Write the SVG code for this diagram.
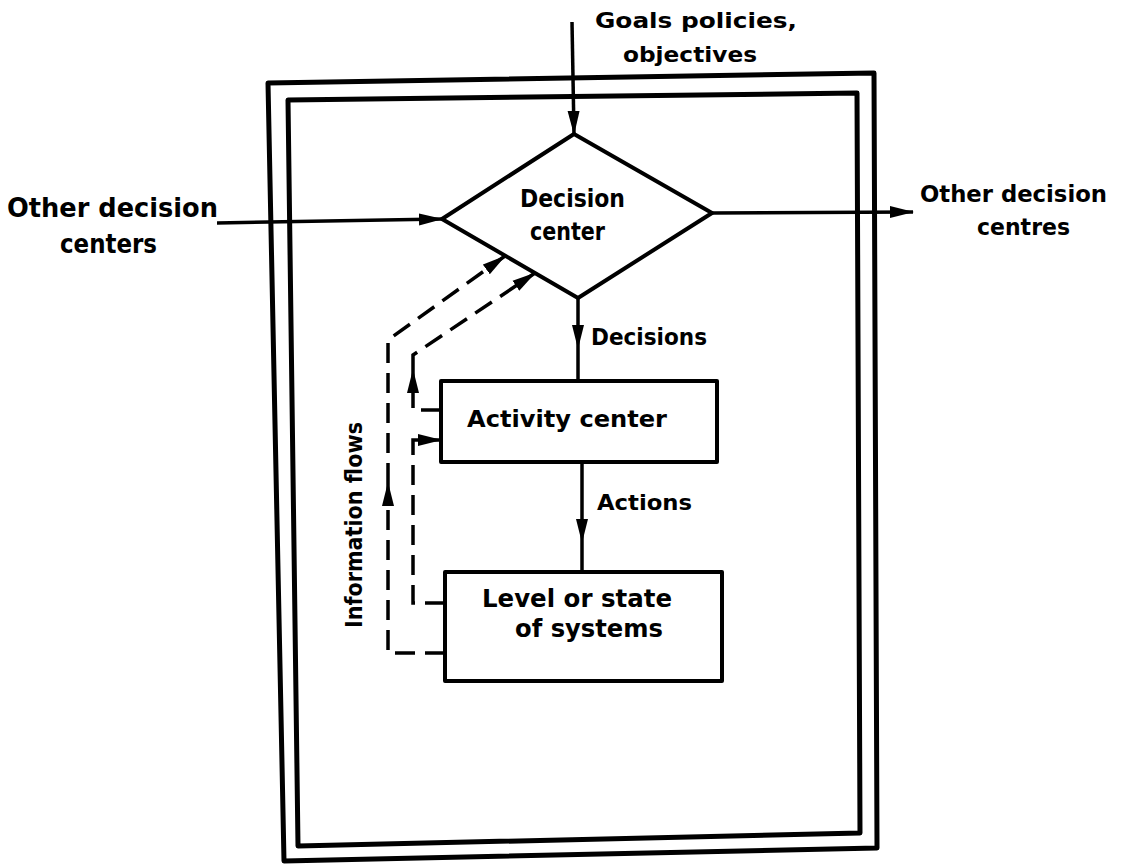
<svg xmlns="http://www.w3.org/2000/svg" width="1124" height="864" viewBox="0 0 1124 864">
<defs>
<style>
.shape{fill:none;stroke:#000;stroke-width:4;stroke-linejoin:round}
.frame{fill:none;stroke:#000;stroke-width:5;stroke-linejoin:round}
.line{fill:none;stroke:#000;stroke-width:3.5}
.dash{fill:none;stroke:#000;stroke-width:3.5;stroke-dasharray:20 10}
.t{font-family:"DejaVu Sans","Liberation Sans",sans-serif;font-weight:bold;fill:#000}
</style>
<marker id="ah" viewBox="0 0 24 14" markerUnits="userSpaceOnUse" markerWidth="24" markerHeight="14" refX="23" refY="7" orient="auto">
<path d="M0,1 L24,7 L0,13 z" fill="#000"/>
</marker>
</defs>
<rect width="1124" height="864" fill="#fff"/>
<g id="system-boundary">
<polygon class="frame" points="268,83 874,73 877,848 284,861"/>
<polygon class="frame" points="288,100 857,93 860,833 298,846"/>
</g>
<g id="decision-center">
<polygon class="shape" points="574,134 712,213 578,298 442,219"/>
<text class="t" x="520" y="207" font-size="25" textLength="105" lengthAdjust="spacingAndGlyphs">Decision</text>
<text class="t" x="530" y="240" font-size="25" textLength="75" lengthAdjust="spacingAndGlyphs">center</text>
</g>
<g id="activity-center">
<rect class="shape" x="441" y="381" width="276" height="81"/>
<text class="t" x="467" y="427" font-size="23" textLength="200" lengthAdjust="spacingAndGlyphs">Activity center</text>
</g>
<g id="level-state">
<rect class="shape" x="445" y="572" width="277" height="109"/>
<text class="t" x="482" y="607" font-size="25" textLength="190" lengthAdjust="spacingAndGlyphs">Level or state</text>
<text class="t" x="515" y="637" font-size="25" textLength="148" lengthAdjust="spacingAndGlyphs">of systems</text>
</g>
<g id="goals">
<text class="t" x="595" y="28" font-size="22" textLength="202" lengthAdjust="spacingAndGlyphs">Goals policies,</text>
<text class="t" x="623" y="62" font-size="22" textLength="134" lengthAdjust="spacingAndGlyphs">objectives</text>
</g>
<g id="other-left">
<text class="t" x="7" y="217" font-size="26" textLength="211" lengthAdjust="spacingAndGlyphs">Other decision</text>
<text class="t" x="60" y="253" font-size="26" textLength="97" lengthAdjust="spacingAndGlyphs">centers</text>
</g>
<g id="other-right">
<text class="t" x="920" y="202" font-size="23" textLength="187" lengthAdjust="spacingAndGlyphs">Other decision</text>
<text class="t" x="977" y="235" font-size="23" textLength="93" lengthAdjust="spacingAndGlyphs">centres</text>
</g>
<g id="information-flows">
<text class="t" transform="translate(362,525) rotate(-90)" x="0" y="0" font-size="23" text-anchor="middle" textLength="206" lengthAdjust="spacingAndGlyphs">Information flows</text>
</g>
<g id="connectors">
<line class="line" x1="572" y1="22" x2="574" y2="134" marker-end="url(#ah)"/>
<line class="line" x1="217" y1="223" x2="442" y2="219" marker-end="url(#ah)"/>
<line class="line" x1="712" y1="213" x2="913" y2="212" marker-end="url(#ah)"/>
<line class="line" x1="578" y1="298" x2="578" y2="348" marker-end="url(#ah)"/>
<line class="line" x1="578" y1="348" x2="578" y2="381"/>
<text class="t" x="591" y="345" font-size="23" textLength="116" lengthAdjust="spacingAndGlyphs">Decisions</text>
<line class="line" x1="582" y1="462" x2="582" y2="542" marker-end="url(#ah)"/>
<line class="line" x1="582" y1="542" x2="582" y2="572"/>
<text class="t" x="597" y="510" font-size="21" textLength="95" lengthAdjust="spacingAndGlyphs">Actions</text>
<path class="dash" d="M445,653 H388 V483" marker-end="url(#ah)"/>
<path class="dash" d="M388,483 V340 L505,256" marker-end="url(#ah)"/>
<path class="dash" d="M441,410 H413 V370" marker-end="url(#ah)"/>
<path class="dash" d="M413,370 V355 L535,273" marker-end="url(#ah)"/>
<path class="dash" d="M445,603 H413 V440 H441" marker-end="url(#ah)"/>
</g>
</svg>
